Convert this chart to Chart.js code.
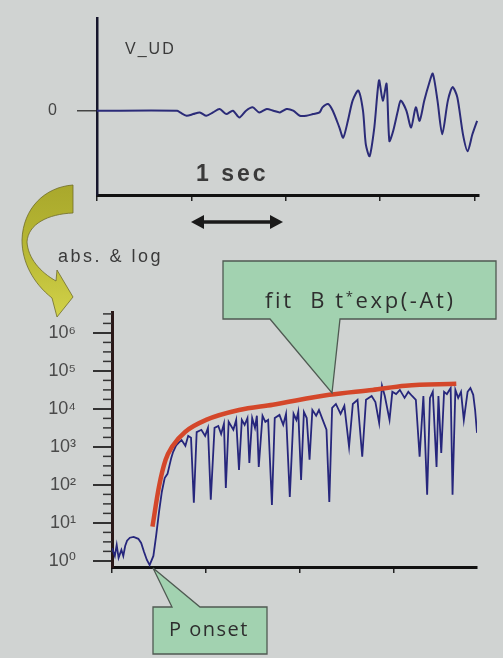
<!DOCTYPE html>
<html>
<head>
<meta charset="utf-8">
<script src="https://cdn.jsdelivr.net/npm/chart.js@4.4.0/dist/chart.umd.min.js"></script>
<style>
  html, body { margin: 0; padding: 0; }
  body { width: 503px; height: 658px; background: #d0d3d2; position: relative; overflow: hidden; font-family: 'Liberation Sans', Arial, sans-serif; }
  canvas { position: absolute; left: 0; }
  #wave { top: 0; }
  #logwave { top: 290px; }
  svg { position: absolute; left: 0; top: 0; }
  .lbl { position: absolute; color: #3a3a3a; white-space: nowrap; line-height: 1; }
  .call { font-family: 'Open Sans', sans-serif; color: #2e2e2e; }
</style>
</head>
<body>
<canvas id="wave" width="503" height="240"></canvas>
<canvas id="logwave" width="503" height="310"></canvas>

<svg width="503" height="658" viewBox="0 0 503 658">
  <defs>
    <linearGradient id="yel" x1="0" y1="0" x2="0" y2="1">
      <stop offset="0" stop-color="#a9a82c"/>
      <stop offset="0.5" stop-color="#b8b834"/>
      <stop offset="1" stop-color="#d2d24a"/>
    </linearGradient>
  </defs>
  <!-- curved arrow between the two panels -->
  <path d="M73,185 C45,187 23,208 22,240 C22,262 33,283 52,298 L57,317 L73,297 L57,270 L56,281 C40,272 28,258 27,242 C28,224 48,214 73,213 Z"
        fill="url(#yel)" stroke="#6e6c2a" stroke-width="0.8"/>
  <!-- 1 sec double arrow -->
  <line x1="200" y1="222" x2="274" y2="222" stroke="#1a1a1a" stroke-width="3.5"/>
  <polygon points="191,222 204,215 204,229" fill="#1a1a1a"/>
  <polygon points="283,222 270,215 270,229" fill="#1a1a1a"/>
  <!-- callouts -->
  <path d="M223,261 H496 V319 H340 L332,393 L270,319 H223 Z" fill="#a2d2b0" stroke="#4f5a52" stroke-width="1.3"/>
  <path d="M153,607 H172 L153,568 L200,607 H267 V654 H153 Z" fill="#a2d2b0" stroke="#4f5a52" stroke-width="1.3"/>
</svg>

<div class="lbl" style="left:125px; top:41px; font-size:16px; letter-spacing:2px;">V_UD</div>
<div class="lbl" style="left:196px; top:162px; font-size:23px; font-weight:bold; letter-spacing:3px;">1 sec</div>
<div class="lbl" style="left:58px; top:247px; font-size:18px; letter-spacing:2.5px;">abs. &amp; log</div>
<div class="lbl call" style="left:265px; top:285px; font-size:22px; line-height:22px; letter-spacing:2.6px;">fit&nbsp; B t<span style="font-size:13px; vertical-align:7px;">*</span>exp(-At)</div>
<div class="lbl call" style="left:169px; top:619px; font-size:20px; line-height:20px; letter-spacing:1.5px;">P onset</div>

<script>
// top panel: vertical velocity trace (seconds, relative amplitude)
const waveTime = [0, 0.85, 0.88, 0.95, 1.02, 1.09, 1.16, 1.23, 1.30, 1.37, 1.44, 1.51, 1.58, 1.65, 1.72, 1.80, 1.87, 1.94, 2.01, 2.08, 2.15, 2.22, 2.29, 2.36,
  2.39, 2.45, 2.50, 2.57, 2.61, 2.66, 2.71, 2.77, 2.82, 2.85, 2.89, 2.94, 2.99, 3.03, 3.07, 3.10, 3.14, 3.19, 3.22, 3.28, 3.33, 3.38, 3.42, 3.47, 3.52, 3.56, 3.61, 3.66, 3.72, 3.77, 3.82, 3.88, 3.93, 3.98, 4.03];
const waveAmp = [0, 0, -0.02, -0.06, -0.04, -0.02, -0.06, -0.02, 0.02, -0.04, 0, -0.08, 0, 0.04, -0.02, 0.02, 0, -0.02, 0.02, 0, -0.06, -0.06, -0.04, -0.02,
  0.04, 0.08, 0, -0.20, -0.32, -0.12, 0.12, 0.24, 0, -0.40, -0.54, -0.20, 0.36, 0.12, 0.32, -0.36, -0.24, 0, 0.12, 0, -0.20, 0.04, -0.12, 0.12, 0.32, 0.44, 0.12, -0.28, 0.12, 0.28, 0.16, -0.28, -0.48, -0.28, -0.12];
const secTicks = [0, 1, 2, 3, 4];

// bottom panel: log10 of the absolute amplitude
const absTime = [0.00, 0.03, 0.05, 0.07, 0.10, 0.12, 0.14, 0.16, 0.19, 0.23, 0.28, 0.31, 0.34, 0.37, 0.40,
  0.44, 0.47, 0.50, 0.53, 0.56, 0.59, 0.61, 0.63, 0.65, 0.68, 0.71,
  0.74, 0.78, 0.81, 0.84, 0.87, 0.90, 0.95, 0.99, 1.02, 1.05, 1.09, 1.13, 1.16, 1.19, 1.21, 1.24, 1.29, 1.32, 1.35, 1.38,
  1.41, 1.44, 1.46, 1.49, 1.52, 1.54, 1.56, 1.60, 1.63, 1.66, 1.70, 1.73, 1.78, 1.82, 1.85, 1.89, 1.93, 1.96, 1.98, 2.01,
  2.04, 2.07, 2.10, 2.13, 2.17, 2.20, 2.24, 2.28, 2.31, 2.34, 2.38, 2.43, 2.47, 2.52, 2.56, 2.61, 2.66, 2.70, 2.76, 2.80,
  2.84, 2.87, 2.90, 2.95, 2.98, 3.02, 3.06, 3.11, 3.15, 3.19, 3.23, 3.27, 3.31, 3.35, 3.38, 3.41, 3.45, 3.47, 3.50, 3.53,
  3.56, 3.60, 3.62, 3.65, 3.68, 3.71, 3.74, 3.78, 3.81, 3.84, 3.86, 3.88];
const absLog = [0.34, 0.13, 0.42, 0.08, 0.29, 0.13, 0.39, 0.53, 0.61, 0.63, 0.58, 0.47, 0.24, 0.03, -0.11,
  0.13, 0.68, 1.29, 1.82, 2.18, 2.29, 2.50, 2.71, 2.87, 3.03, 3.11,
  3.18, 3.03, 3.29, 3.24, 1.53, 3.39, 3.45, 3.29, 3.50, 1.61, 3.50, 3.55, 3.34, 3.61, 1.92, 3.66, 3.45, 3.71, 2.39, 3.71,
  3.58, 3.76, 2.58, 3.76, 3.50, 3.82, 2.47, 3.82, 3.66, 3.71, 1.47, 3.76, 3.84, 3.58, 3.87, 1.68, 3.87, 3.71, 3.92, 2.13,
  3.92, 3.76, 2.66, 3.97, 3.82, 3.97, 3.71, 3.45, 1.55, 4.03, 4.13, 3.87, 4.08, 3.00, 4.13, 4.24, 2.74, 4.24, 4.34, 4.18,
  3.63, 4.61, 4.34, 3.71, 4.45, 4.39, 4.50, 4.29, 4.45, 4.34, 4.24, 2.74, 4.34, 1.74, 4.29, 4.45, 2.47, 4.34, 2.84, 4.45,
  4.39, 4.55, 1.74, 4.50, 4.29, 4.45, 3.71, 4.45, 4.55, 4.37, 3.97, 3.37];

// envelope fit  B t^n exp(-At)
const fitTime = [0.43, 0.50, 0.57, 0.64, 0.78, 1.00, 1.35, 1.71, 2.31, 2.77, 3.12, 3.66];
const fitLog = [0.90, 1.96, 2.66, 3.01, 3.40, 3.71, 3.97, 4.11, 4.37, 4.50, 4.61, 4.66];

const decadeTicks = [1, 10, 100, 1000, 1e4, 1e5, 1e6];
const sup = ['\u2070', '\u00b9', '\u00b2', '\u00b3', '\u2074', '\u2075', '\u2076'];

const labelFont = { family: "'Liberation Sans', 'DejaVu Sans', sans-serif" };

// keep the plot area where the layout padding puts it
function noLabelPadding(s) {
    s.paddingTop = 0;
    s.paddingBottom = 0;
    s.paddingLeft = 0;
    s.paddingRight = 0;
}

new Chart(document.getElementById('wave'), {
    type: 'line',
    data: {
        datasets: [{
            data: waveTime.map((t, i) => ({ x: t, y: waveAmp[i] })),
            borderColor: '#2b2b78',
            borderWidth: 2,
            pointRadius: 0,
            tension: 0.25
        }]
    },
    options: {
        responsive: false,
        animation: false,
        events: [],
        layout: { padding: { top: 18, right: 24, left: 0, bottom: 0 } },
        plugins: { legend: { display: false }, tooltip: { enabled: false } },
        scales: {
            x: {
                type: 'linear', min: 0, max: 4.05,
                afterBuildTicks: s => { s.ticks = secTicks.map(v => ({ value: v })); },
                afterFit: s => { s.height = 45; noLabelPadding(s); },
                ticks: { display: false },
                grid: { drawOnChartArea: false, tickLength: 6, color: '#222', lineWidth: 1.5 },
                border: { color: '#111', width: 3 }
            },
            y: {
                min: -1, max: 1.1,
                afterBuildTicks: s => { s.ticks = [{ value: 0 }]; },
                afterFit: s => { s.width = 97; noLabelPadding(s); },
                ticks: { padding: 20, color: '#444', font: { ...labelFont, size: 16 }, callback: () => '0' },
                grid: { drawOnChartArea: false, tickLength: 20, color: '#444', lineWidth: 1.5 },
                border: { color: '#16162c', width: 2.5 }
            }
        }
    }
});

// short ticks between the decades of the log axis
const minorTicks = {
    id: 'minorTicks',
    afterDraw(chart) {
        const y = chart.scales.y;
        const ctx = chart.ctx;
        const x0 = chart.chartArea.left;
        ctx.save();
        ctx.strokeStyle = '#333';
        ctx.lineWidth = 1.5;
        for (let k = 0; k <= 6; k++) {
            for (let j = 1; j < 4; j++) {
                const v = Math.pow(10, k + j / 4);
                if (v > y.max) continue;
                const py = y.getPixelForValue(v);
                ctx.beginPath();
                ctx.moveTo(x0 - 9, py);
                ctx.lineTo(x0, py);
                ctx.stroke();
            }
        }
        ctx.restore();
    }
};

new Chart(document.getElementById('logwave'), {
    type: 'line',
    data: {
        datasets: [{
            data: fitTime.map((t, i) => ({ x: t, y: Math.pow(10, fitLog[i]) })),
            borderColor: '#d4472a',
            borderWidth: 4.5,
            pointRadius: 0,
            cubicInterpolationMode: 'monotone'
        }, {
            data: absTime.map((t, i) => ({ x: t, y: Math.pow(10, absLog[i]) })),
            borderColor: '#26267c',
            borderWidth: 1.8,
            pointRadius: 0,
            tension: 0
        }]
    },
    options: {
        responsive: false,
        animation: false,
        events: [],
        layout: { padding: { top: 22, right: 26, left: 0, bottom: 0 } },
        plugins: { legend: { display: false }, tooltip: { enabled: false } },
        scales: {
            x: {
                type: 'linear', min: 0, max: 3.88,
                afterBuildTicks: s => { s.ticks = secTicks.slice(0, 4).map(v => ({ value: v })); },
                afterFit: s => { s.height = 33; noLabelPadding(s); },
                ticks: { display: false },
                grid: { drawOnChartArea: false, tickLength: 6, color: '#222', lineWidth: 1.5 },
                border: { color: '#111', width: 3 }
            },
            y: {
                type: 'logarithmic', min: 0.69, max: 3.55e6,
                afterBuildTicks: s => { s.ticks = decadeTicks.map(v => ({ value: v })); },
                afterFit: s => { s.width = 112; noLabelPadding(s); },
                ticks: {
                    padding: 17, color: '#4a4a4a', font: { ...labelFont, size: 18 },
                    callback: v => '10' + sup[Math.round(Math.log10(v))]
                },
                grid: { drawOnChartArea: false, tickLength: 19, color: '#333', lineWidth: 2 },
                border: { color: '#2a1818', width: 3 }
            }
        }
    },
    plugins: [minorTicks]
});
</script>
</body>
</html>
